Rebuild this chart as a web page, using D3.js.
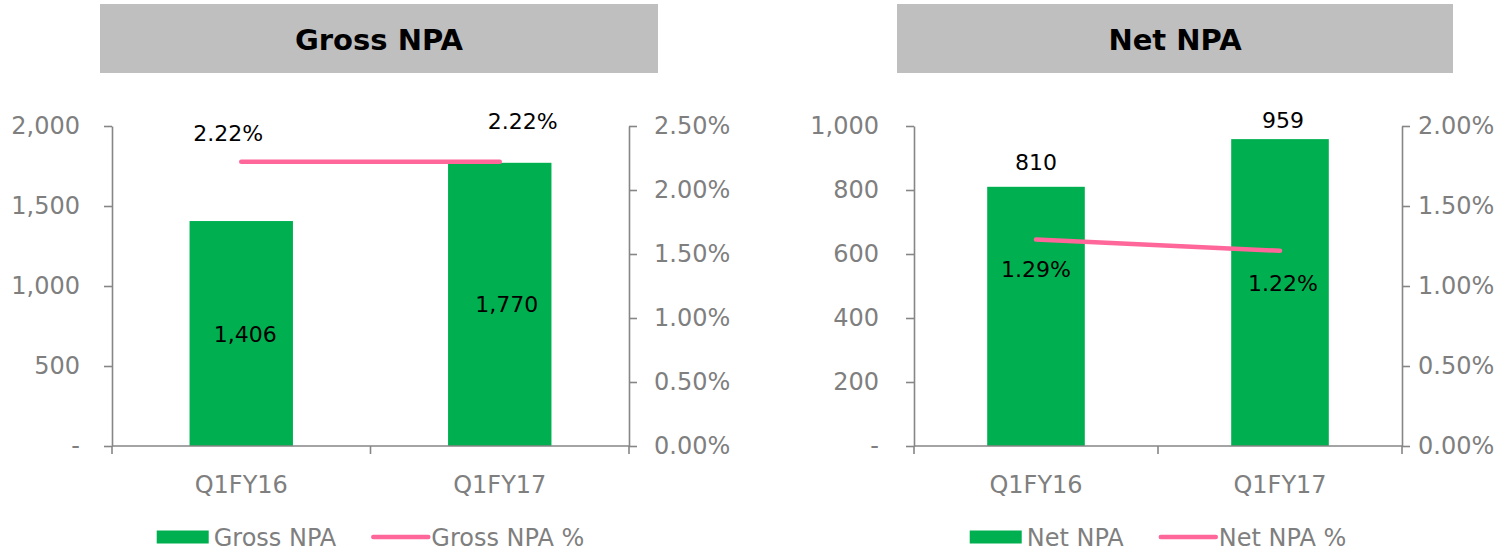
<!DOCTYPE html>
<html>
<head>
<meta charset="utf-8">
<script src="https://cdn.jsdelivr.net/npm/d3@7"></script>
<style>
  body { margin: 0; background: #fff; }
  svg { font-family: "DejaVu Sans", sans-serif; }
  .tick line, .domain { stroke: #868686; stroke-width: 1.6px; }
  .val { fill: #000; font-size: 22px; text-anchor: middle; }
  .title { font-weight: bold; font-size: 29px; text-anchor: middle; fill: #000; }
  .leg { fill: #7f7f7f; font-size: 24px; }
</style>
</head>
<body>
<svg id="chart" width="1501" height="550"></svg>
<script>
// Data
const categories = ['Q1FY16', 'Q1FY17']
const grossNpa = [1406, 1770]
const grossNpaPct = [2.22, 2.22]
const netNpa = [810, 959]
const netNpaPct = [1.29, 1.22]
const grossTicks = [0, 500, 1000, 1500, 2000]
const grossPctTicks = [0, 0.5, 1, 1.5, 2, 2.5]
const netTicks = [0, 200, 400, 600, 800, 1000]
const netPctTicks = [0, 0.5, 1, 1.5, 2]

const GREEN = '#00b050', PINK = '#ff6699'
const fmtNum = v => v === 0 ? '-' : d3.format(',')(v)
const fmtPct = v => d3.format('.2f')(v) + '%'

const svg = d3.select('#chart')

function drawPanel(p) {
    const g = svg.append('g')
    const top = 126, bottom = 446

    // Title box
    g.append('rect').attr('x', p.boxL).attr('y', 4).attr('width', p.boxR - p.boxL).attr('height', 69).attr('fill', '#bfbfbf')
    g.append('text').attr('class', 'title').attr('x', (p.boxL + p.boxR) / 2).attr('y', 50).text(p.title)

    const x = d3.scaleBand().domain(categories).range([p.left, p.right]).paddingInner(0.6).paddingOuter(0.3)
    const y = d3.scaleLinear().domain([0, d3.max(p.ticks)]).range([bottom, top])
    const y2 = d3.scaleLinear().domain([0, d3.max(p.pctTicks)]).range([bottom, top])

    // Bars
    g.selectAll('.bar').data(p.values).enter()
        .append('rect')
        .attr('x', (d, i) => x(categories[i]))
        .attr('y', d => y(d))
        .attr('width', x.bandwidth())
        .attr('height', d => bottom - y(d))
        .attr('fill', GREEN)

    // Axes
    g.append('g').attr('transform', `translate(${p.left},0)`)
        .call(d3.axisLeft(y).tickValues(p.ticks).tickFormat(fmtNum).tickSize(8).tickSizeOuter(0).tickPadding(p.lPad))
    g.append('g').attr('transform', `translate(${p.right},0)`)
        .call(d3.axisRight(y2).tickValues(p.pctTicks).tickFormat(fmtPct).tickSize(8).tickSizeOuter(0).tickPadding(p.rPad))
    const xa = g.append('g').attr('transform', `translate(0,${bottom})`)
        .call(d3.axisBottom(x).tickSize(0).tickPadding(30).tickSizeOuter(0))
    xa.select('.domain').attr('d', `M${p.left},0H${p.right}`)
    // category boundary ticks
    d3.range(categories.length + 1).map(i => p.left + i * (p.right - p.left) / categories.length)
        .forEach(tx => xa.append('line').attr('x1', tx).attr('x2', tx).attr('y1', 0).attr('y2', 8)
            .attr('stroke', '#868686').attr('stroke-width', 1.6))
    g.selectAll('.tick text').attr('fill', '#7f7f7f').style('font-size', '24px').style('font-family', '"DejaVu Sans", sans-serif')

    // Line
    const cx = i => x(categories[i]) + x.bandwidth() / 2
    g.append('path')
        .datum(p.pct)
        .attr('d', d3.line().x((d, i) => cx(i)).y(d => y2(d)))
        .attr('fill', 'none').attr('stroke', PINK).attr('stroke-width', 4.5).attr('stroke-linecap', 'round')

    // Value labels
    g.selectAll('.vb').data(p.values).enter()
        .append('text').attr('class', 'val')
        .attr('x', (d, i) => cx(i) + p.barNudge[i][0])
        .attr('y', (d, i) => p.barInside ? (y(d) + bottom) / 2 + 8 : y(d) + p.barNudge[i][1])
        .text(d => d3.format(',')(d))
    g.selectAll('.vp').data(p.pct).enter()
        .append('text').attr('class', 'val')
        .attr('x', (d, i) => cx(i) + p.pctNudge[i][0])
        .attr('y', (d, i) => y2(d) + p.pctNudge[i][1])
        .text(d => fmtPct(d))

    // Legend
    const leg = g.append('g')
    leg.append('rect').attr('x', 0).attr('y', -6.5).attr('width', 52).attr('height', 13).attr('fill', GREEN)
    const t1 = leg.append('text').attr('class', 'leg').attr('x', 57).attr('y', 8.5).text(p.title)
    const lx = 57 + t1.node().getComputedTextLength() + 37
    leg.append('line').attr('x1', lx).attr('x2', lx + 55).attr('y1', 0).attr('y2', 0)
        .attr('stroke', PINK).attr('stroke-width', 4.5).attr('stroke-linecap', 'round')
    const t2 = leg.append('text').attr('class', 'leg').attr('x', lx + 58).attr('y', 8.5).text(p.title + ' %')
    const total = lx + 58 + t2.node().getComputedTextLength()
    leg.attr('transform', `translate(${(p.left + p.right) / 2 - total / 2},537)`)
}

drawPanel({
    title: 'Gross NPA', boxL: 100, boxR: 658, left: 112, right: 629,
    values: grossNpa, pct: grossNpaPct, ticks: grossTicks, pctTicks: grossPctTicks,
    lPad: 24, rPad: 17, barInside: true, barNudge: [[4, 0], [7, 0]],
    pctNudge: [[-13, -21], [23, -33]]
})
drawPanel({
    title: 'Net NPA', boxL: 897, boxR: 1453, left: 914, right: 1402,
    values: netNpa, pct: netNpaPct, ticks: netTicks, pctTicks: netPctTicks,
    lPad: 27, rPad: 8, barInside: false, barNudge: [[0, -17], [3, -11]],
    pctNudge: [[0, 37], [3, 40]]
})
</script>
</body>
</html>
